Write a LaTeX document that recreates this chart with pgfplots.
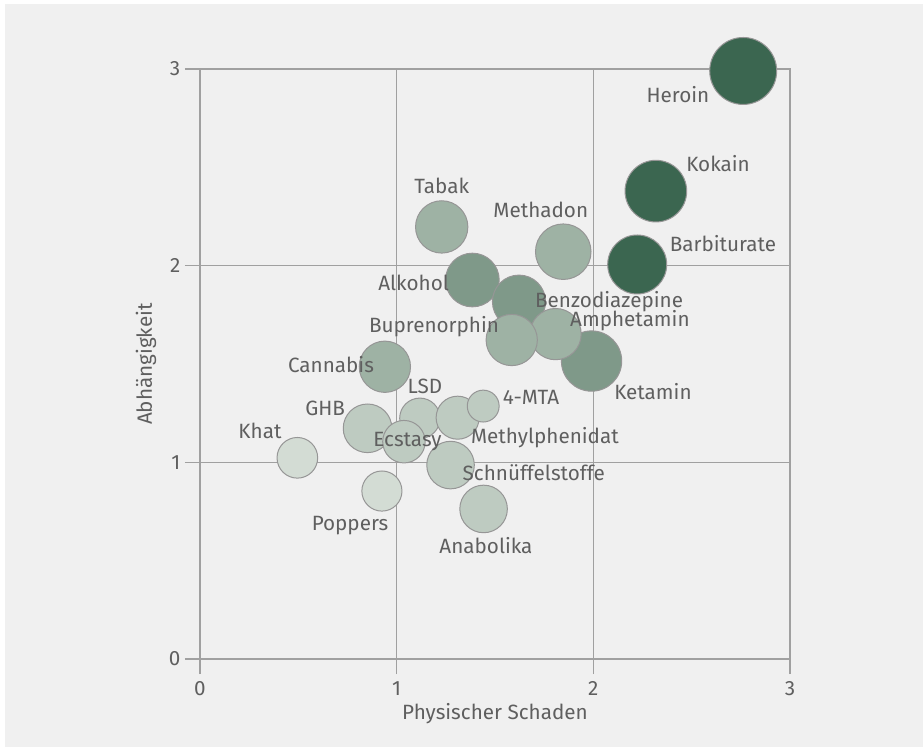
\documentclass[border=0pt]{standalone}
\usepackage{pgfplots}
\pgfplotsset{compat=1.18}
\usepackage{fontspec}
\setmainfont{Fira Sans}
\definecolor{bg}{RGB}{240,240,240}
\definecolor{gridc}{RGB}{160,160,160}
\definecolor{txt}{RGB}{95,95,95}
\definecolor{cdark}{RGB}{59,102,80}
\definecolor{cmid}{RGB}{127,153,137}
\definecolor{clm}{RGB}{158,178,164}
\definecolor{clight}{RGB}{190,203,193}
\definecolor{clt}{RGB}{211,220,212}
\definecolor{edge}{RGB}{150,150,150}

\pgfplotstableread{
x y r
2.762 2.990 25.2
2.318 2.379 23.2
2.223 2.006 22.2
}\dark
\pgfplotstableread{
x y r
1.385 1.927 20.2
1.622 1.817 20.0
1.991 1.515 22.7
}\mid
\pgfplotstableread{
x y r
1.229 2.197 19.7
1.847 2.071 20.9
0.940 1.486 19.3
1.808 1.652 19.3
1.585 1.622 19.3
}\lm
\pgfplotstableread{
x y r
0.852 1.173 18.3
1.118 1.224 15.2
1.310 1.227 16.2
1.440 1.286 12.0
1.037 1.105 16.0
1.274 0.986 17.9
1.442 0.763 17.9
}\light
\pgfplotstableread{
x y r
0.495 1.023 15.3
0.925 0.854 15.1
}\lt

\begin{document}
\begin{tikzpicture}
\begin{axis}[
  set layers=standard,
  at={(0,0)}, anchor=south west,
  scale only axis, width=442.5bp, height=442.5bp,
  xmin=0, xmax=3, ymin=0, ymax=3,
  xtick={0,1,2,3}, ytick={0,1,2,3},
  xtick pos=bottom, ytick pos=left,
  tick align=outside, major tick length=11.25bp,
  grid=major,
  major grid style={gridc, line width=1bp},
  axis line style={gridc, line width=1bp},
  tick style={gridc, line width=1bp},
  every tick label/.append style={font=\fontsize{15.5bp}{18bp}\selectfont, text=txt},
  xticklabel style={yshift=-2bp},
  /pgf/number format/assume math mode=true,
  xlabel={Physischer Schaden},
  ylabel={Abhängigkeit},
  label style={font=\fontsize{15.5bp}{18bp}\selectfont, text=txt},
  xlabel style={at={(axis description cs:0.5,-0.1017)}, anchor=base},
  ylabel style={at={(axis description cs:-0.0915,0.5)}, anchor=center},
  clip=false,
  bub/.style={only marks, mark=*, line width=0.75bp,
     visualization depends on={\thisrow{r} \as \rad},
     scatter,
     scatter/use mapped color={draw=edge, fill=#1},
     scatter/@pre marker code/.append style={/tikz/mark size=\rad}},
]
\begin{pgfonlayer}{axis background}
\fill[white] (rel axis cs:-0.3390,-0.1492) rectangle (rel axis cs:1.2254,1.1169);
\fill[bg] (rel axis cs:-0.3305,-0.1492) rectangle (rel axis cs:1.2254,1.1102);
\end{pgfonlayer}
\addplot[bub=cmid] table[x=x,y=y] {\mid};
\addplot[bub=clm] table[x=x,y=y] {\lm};
\addplot[bub=clight] table[x=x,y=y] {\light};
\addplot[bub=clt] table[x=x,y=y] {\lt};
\addplot[bub=cdark] table[x=x,y=y] {\dark};

\begin{pgfonlayer}{axis foreground}
\begin{scope}[every node/.style={font=\fontsize{15.5bp}{18bp}\selectfont, text=txt, anchor=base, inner sep=0pt}]
\node at (axis cs:2.430,2.829) {Heroin};
\node at (axis cs:2.634,2.478) {Kokain};
\node at (axis cs:2.659,2.071) {Barbiturate};
\node at (axis cs:1.229,2.368) {Tabak};
\node at (axis cs:1.733,2.244) {Methadon};
\node at (axis cs:1.086,1.873) {Alkohol};
\node at (axis cs:2.080,1.788) {Benzodiazepine};
\node at (axis cs:2.186,1.690) {Amphetamin};
\node at (axis cs:1.190,1.659) {Buprenorphin};
\node at (axis cs:0.666,1.459) {Cannabis};
\node at (axis cs:2.303,1.317) {Ketamin};
\node at (axis cs:1.144,1.351) {LSD};
\node at (axis cs:1.683,1.295) {4-MTA};
\node at (axis cs:0.636,1.237) {GHB};
\node at (axis cs:0.305,1.119) {Khat};
\node at (axis cs:1.055,1.079) {Ecstasy};
\node at (axis cs:1.754,1.097) {Methylphenidat};
\node at (axis cs:1.697,0.910) {Schnüffelstoffe};
\node at (axis cs:0.763,0.652) {Poppers};
\node at (axis cs:1.454,0.537) {Anabolika};
\end{scope}
\end{pgfonlayer}
\end{axis}
\pgfresetboundingbox
\path (-150bp,-66bp) rectangle (542.25bp,494.25bp);
\end{tikzpicture}
\end{document}
